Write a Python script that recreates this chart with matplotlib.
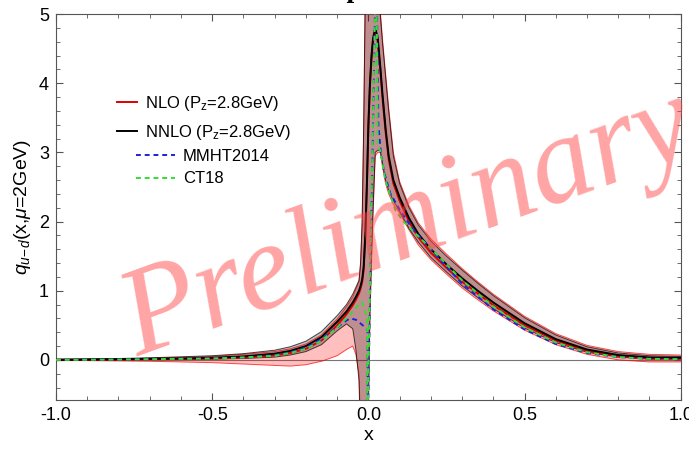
import numpy as np
import matplotlib
matplotlib.use("Agg")
import matplotlib.pyplot as plt
from matplotlib.ticker import MultipleLocator, FormatStrFormatter
from matplotlib.lines import Line2D

plt.rcParams['font.family'] = ['Liberation Sans', 'DejaVu Sans']
plt.rcParams['mathtext.fontset'] = 'custom'
plt.rcParams['mathtext.rm'] = 'Liberation Sans'
plt.rcParams['mathtext.it'] = 'Liberation Sans:italic'

# common x grid of the lattice results
x = [-1.0, -0.9, -0.8, -0.7, -0.6, -0.5, -0.4, -0.3, -0.25, -0.2, -0.15, -0.1, -0.07, -0.05,
     -0.04, -0.03, -0.025, -0.02, -0.015, -0.01, -0.005, 0.0, 0.005, 0.01, 0.015, 0.022, 0.03,
     0.038, 0.045, 0.055, 0.065, 0.08, 0.1, 0.13, 0.16, 0.2, 0.25, 0.3, 0.35, 0.4, 0.5, 0.6,
     0.7, 0.8, 0.9, 1.0]

nnlo = [0.0, 0.005, 0.01, 0.015, 0.02, 0.03, 0.05, 0.09, 0.13, 0.2, 0.33, 0.55, 0.7, 0.83,
        0.91, 1.0, 1.07, 1.16, 1.35, 1.8, 2.5, 3.4, 4.0, 4.4, 4.65, 4.8, 4.65,
        4.25, 3.85, 3.35, 2.95, 2.6, 2.35, 2.05, 1.82, 1.6, 1.38, 1.18, 1.0, 0.83, 0.53, 0.3,
        0.15, 0.07, 0.035, 0.03]
nnlo_hi = [0.01, 0.015, 0.02, 0.03, 0.045, 0.06, 0.09, 0.14, 0.19, 0.27, 0.41, 0.64, 0.8, 0.95,
           1.05, 1.15, 1.4, 2.0, 3.4, 5.3, 6.5, 7.0, 7.0, 7.0, 7.0, 7.0, 6.0,
           5.0, 4.6, 4.1, 3.6, 2.95, 2.55, 2.2, 1.95, 1.72, 1.5, 1.3, 1.11, 0.93, 0.61, 0.36,
           0.19, 0.1, 0.06, 0.05]
nnlo_lo = [-0.01, -0.005, 0.0, 0.005, 0.005, 0.01, 0.02, 0.04, 0.07, 0.12, 0.22, 0.42, 0.52, 0.45,
           0.15, -0.3, -1.2, -3.0, -3.0, -3.0, -3.0, -0.7, 0.7, 1.5, 2.2, 3.0, 3.03,
           3.03, 2.85, 2.6, 2.45, 2.3, 2.15, 1.9, 1.7, 1.48, 1.27, 1.07, 0.9, 0.74, 0.46, 0.25,
           0.11, 0.04, 0.01, 0.01]

nlo = [0.0, 0.0, 0.005, 0.01, 0.015, 0.02, 0.035, 0.065, 0.1, 0.16, 0.28, 0.5, 0.66, 0.79,
       0.87, 0.96, 1.03, 1.12, 1.3, 1.75, 2.45, 3.35, 3.95, 4.35, 4.6, 4.75, 4.6,
       4.2, 3.8, 3.3, 2.9, 2.55, 2.3, 2.0, 1.77, 1.55, 1.33, 1.13, 0.96, 0.79, 0.5, 0.28,
       0.13, 0.05, 0.02, 0.02]
nlo_hi = [0.01, 0.01, 0.015, 0.025, 0.035, 0.05, 0.08, 0.12, 0.16, 0.23, 0.36, 0.59, 0.77, 0.91,
          1.02, 1.13, 1.38, 1.95, 3.3, 5.2, 6.5, 7.0, 7.0, 7.0, 7.0, 7.0, 6.0,
          5.05, 4.65, 4.15, 3.65, 3.0, 2.58, 2.23, 1.98, 1.75, 1.53, 1.32, 1.13, 0.95, 0.63, 0.38,
          0.21, 0.12, 0.08, 0.07]
nlo_lo = [-0.01, -0.01, -0.015, -0.02, -0.03, -0.04, -0.06, -0.08, -0.09, -0.07, -0.02, 0.06, 0.15, 0.2,
          0.08, -0.2, -1.0, -3.0, -3.0, -3.0, -3.0, -0.8, 0.6, 1.4, 2.1, 2.95, 3.0,
          3.0, 2.8, 2.55, 2.4, 2.25, 2.12, 1.88, 1.66, 1.45, 1.24, 1.04, 0.87, 0.71, 0.43, 0.22,
          0.08, 0.0, -0.03, -0.03]

# global fits
mmht_x = [-1.0, -0.9, -0.8, -0.7, -0.6, -0.5, -0.4, -0.3, -0.25, -0.2, -0.15, -0.1, -0.07, -0.058,
          -0.04, -0.026, -0.01, -0.003, -0.002, 0.025, 0.032, 0.04, 0.05, 0.07, 0.1, 0.144, 0.22,
          0.3, 0.4, 0.5, 0.6, 0.7, 0.8, 0.9, 1.0]
mmht_y = [0.0, 0.002, 0.005, 0.01, 0.015, 0.022, 0.035, 0.07, 0.11, 0.18, 0.3, 0.47, 0.57, 0.6,
          0.58, 0.53, 0.47, 0.43, -1.0, 6.0, 3.4, 3.0, 2.72, 2.41, 2.17, 1.88, 1.5,
          1.1, 0.73, 0.44, 0.23, 0.1, 0.04, 0.015, 0.01]
ct18_x = [-1.0, -0.9, -0.8, -0.7, -0.6, -0.5, -0.4, -0.3, -0.25, -0.2, -0.15, -0.1, -0.07, -0.05,
          -0.03, -0.02, -0.004, -0.003, 0.025, 0.03, 0.038, 0.054, 0.07, 0.086, 0.112, 0.166, 0.22,
          0.3, 0.4, 0.5, 0.6, 0.7, 0.8, 0.9, 1.0]
ct18_y = [0.0, 0.002, 0.005, 0.01, 0.015, 0.02, 0.035, 0.06, 0.1, 0.16, 0.28, 0.47, 0.6, 0.7,
          0.8, 0.83, 0.62, -1.0, 6.0, 3.1, 3.03, 2.6, 2.38, 2.17, 2.0, 1.76, 1.52,
          1.15, 0.77, 0.47, 0.25, 0.11, 0.04, 0.015, 0.01]

fig = plt.figure(figsize=(6.89, 4.53), dpi=100)
ax = fig.add_axes([0.0813, 0.117, 0.9067, 0.852])

ax.axhline(0, color='#777777', lw=0.8, zorder=1)

ax.fill_between(x, nlo_lo, nlo_hi, color='red', alpha=0.25, lw=0, zorder=2)
ax.fill_between(x, nnlo_lo, nnlo_hi, color='black', alpha=0.25, lw=0, zorder=2)
for edge in (nlo_lo, nlo_hi):
    ax.plot(x, edge, color='red', lw=0.7, alpha=0.7, zorder=3)
for edge in (nnlo_lo, nnlo_hi):
    ax.plot(x, edge, color='black', lw=0.7, alpha=0.7, zorder=3)

ax.plot(x, nlo, color='#dd0000', lw=1.4, zorder=4)
ax.plot(x, nnlo, color='black', lw=1.4, zorder=4)
ax.plot(mmht_x, mmht_y, color='#2020e0', lw=1.4, ls=(0, (2.5, 2)), zorder=5)
ax.plot(ct18_x, ct18_y, color='#33dd33', lw=1.4, ls=(0, (2.5, 2)), zorder=5)

ax.set_xlim(-1, 1)
ax.set_ylim(-0.58, 5)
ax.xaxis.set_major_locator(MultipleLocator(0.5))
ax.xaxis.set_minor_locator(MultipleLocator(0.1))
ax.yaxis.set_major_locator(MultipleLocator(1))
ax.yaxis.set_minor_locator(MultipleLocator(0.2))
ax.xaxis.set_major_formatter(FormatStrFormatter('%.1f'))
ax.tick_params(which='both', direction='in', top=True, right=True, labelsize=13,
               color='#555555', pad=5)
ax.tick_params(which='major', length=5)
ax.tick_params(which='minor', length=3)
for sp in ax.spines.values():
    sp.set_color('#555555')

ax.set_xlabel('x', fontsize=14, labelpad=2)
ax.set_ylabel(r'$q_{u\!-\!d}$(x,$\mu$=2GeV)', fontsize=14, labelpad=4)

h1 = [Line2D([], [], color='#dd0000', lw=1.4), Line2D([], [], color='black', lw=1.4)]
leg1 = ax.legend(h1, [r'NLO (P$_\mathrm{z}$=2.8GeV)', r'NNLO (P$_\mathrm{z}$=2.8GeV)'],
                 loc='upper left', bbox_to_anchor=(0.084, 0.815), frameon=False, fontsize=12,
                 handlelength=1.2, handletextpad=0.5, borderpad=0, labelspacing=0.6)
ax.add_artist(leg1)
h2 = [Line2D([], [], color='#2020e0', lw=1.4, ls=(0, (2.5, 2))),
      Line2D([], [], color='#33dd33', lw=1.4, ls=(0, (2.5, 2)))]
ax.legend(h2, ['MMHT2014', 'CT18'], loc='upper left', bbox_to_anchor=(0.115, 0.672),
          frameon=False, fontsize=12, handlelength=2.3, handletextpad=0.5, borderpad=0,
          labelspacing=0.45)

ax.text(0.565, 0.45, 'Preliminary', transform=ax.transAxes, rotation=20, fontsize=90,
        family='Liberation Serif', style='italic', color='#ff4a4a',
        alpha=0.5, ha='center', va='center', zorder=10)

fig.text(0.472, 1 + 3.5 / 453, 'Continuum extrapolated result', ha='center', va='baseline',
         fontsize=20, fontweight='bold', family='Liberation Serif')

fig.savefig('out.png', dpi=100)
